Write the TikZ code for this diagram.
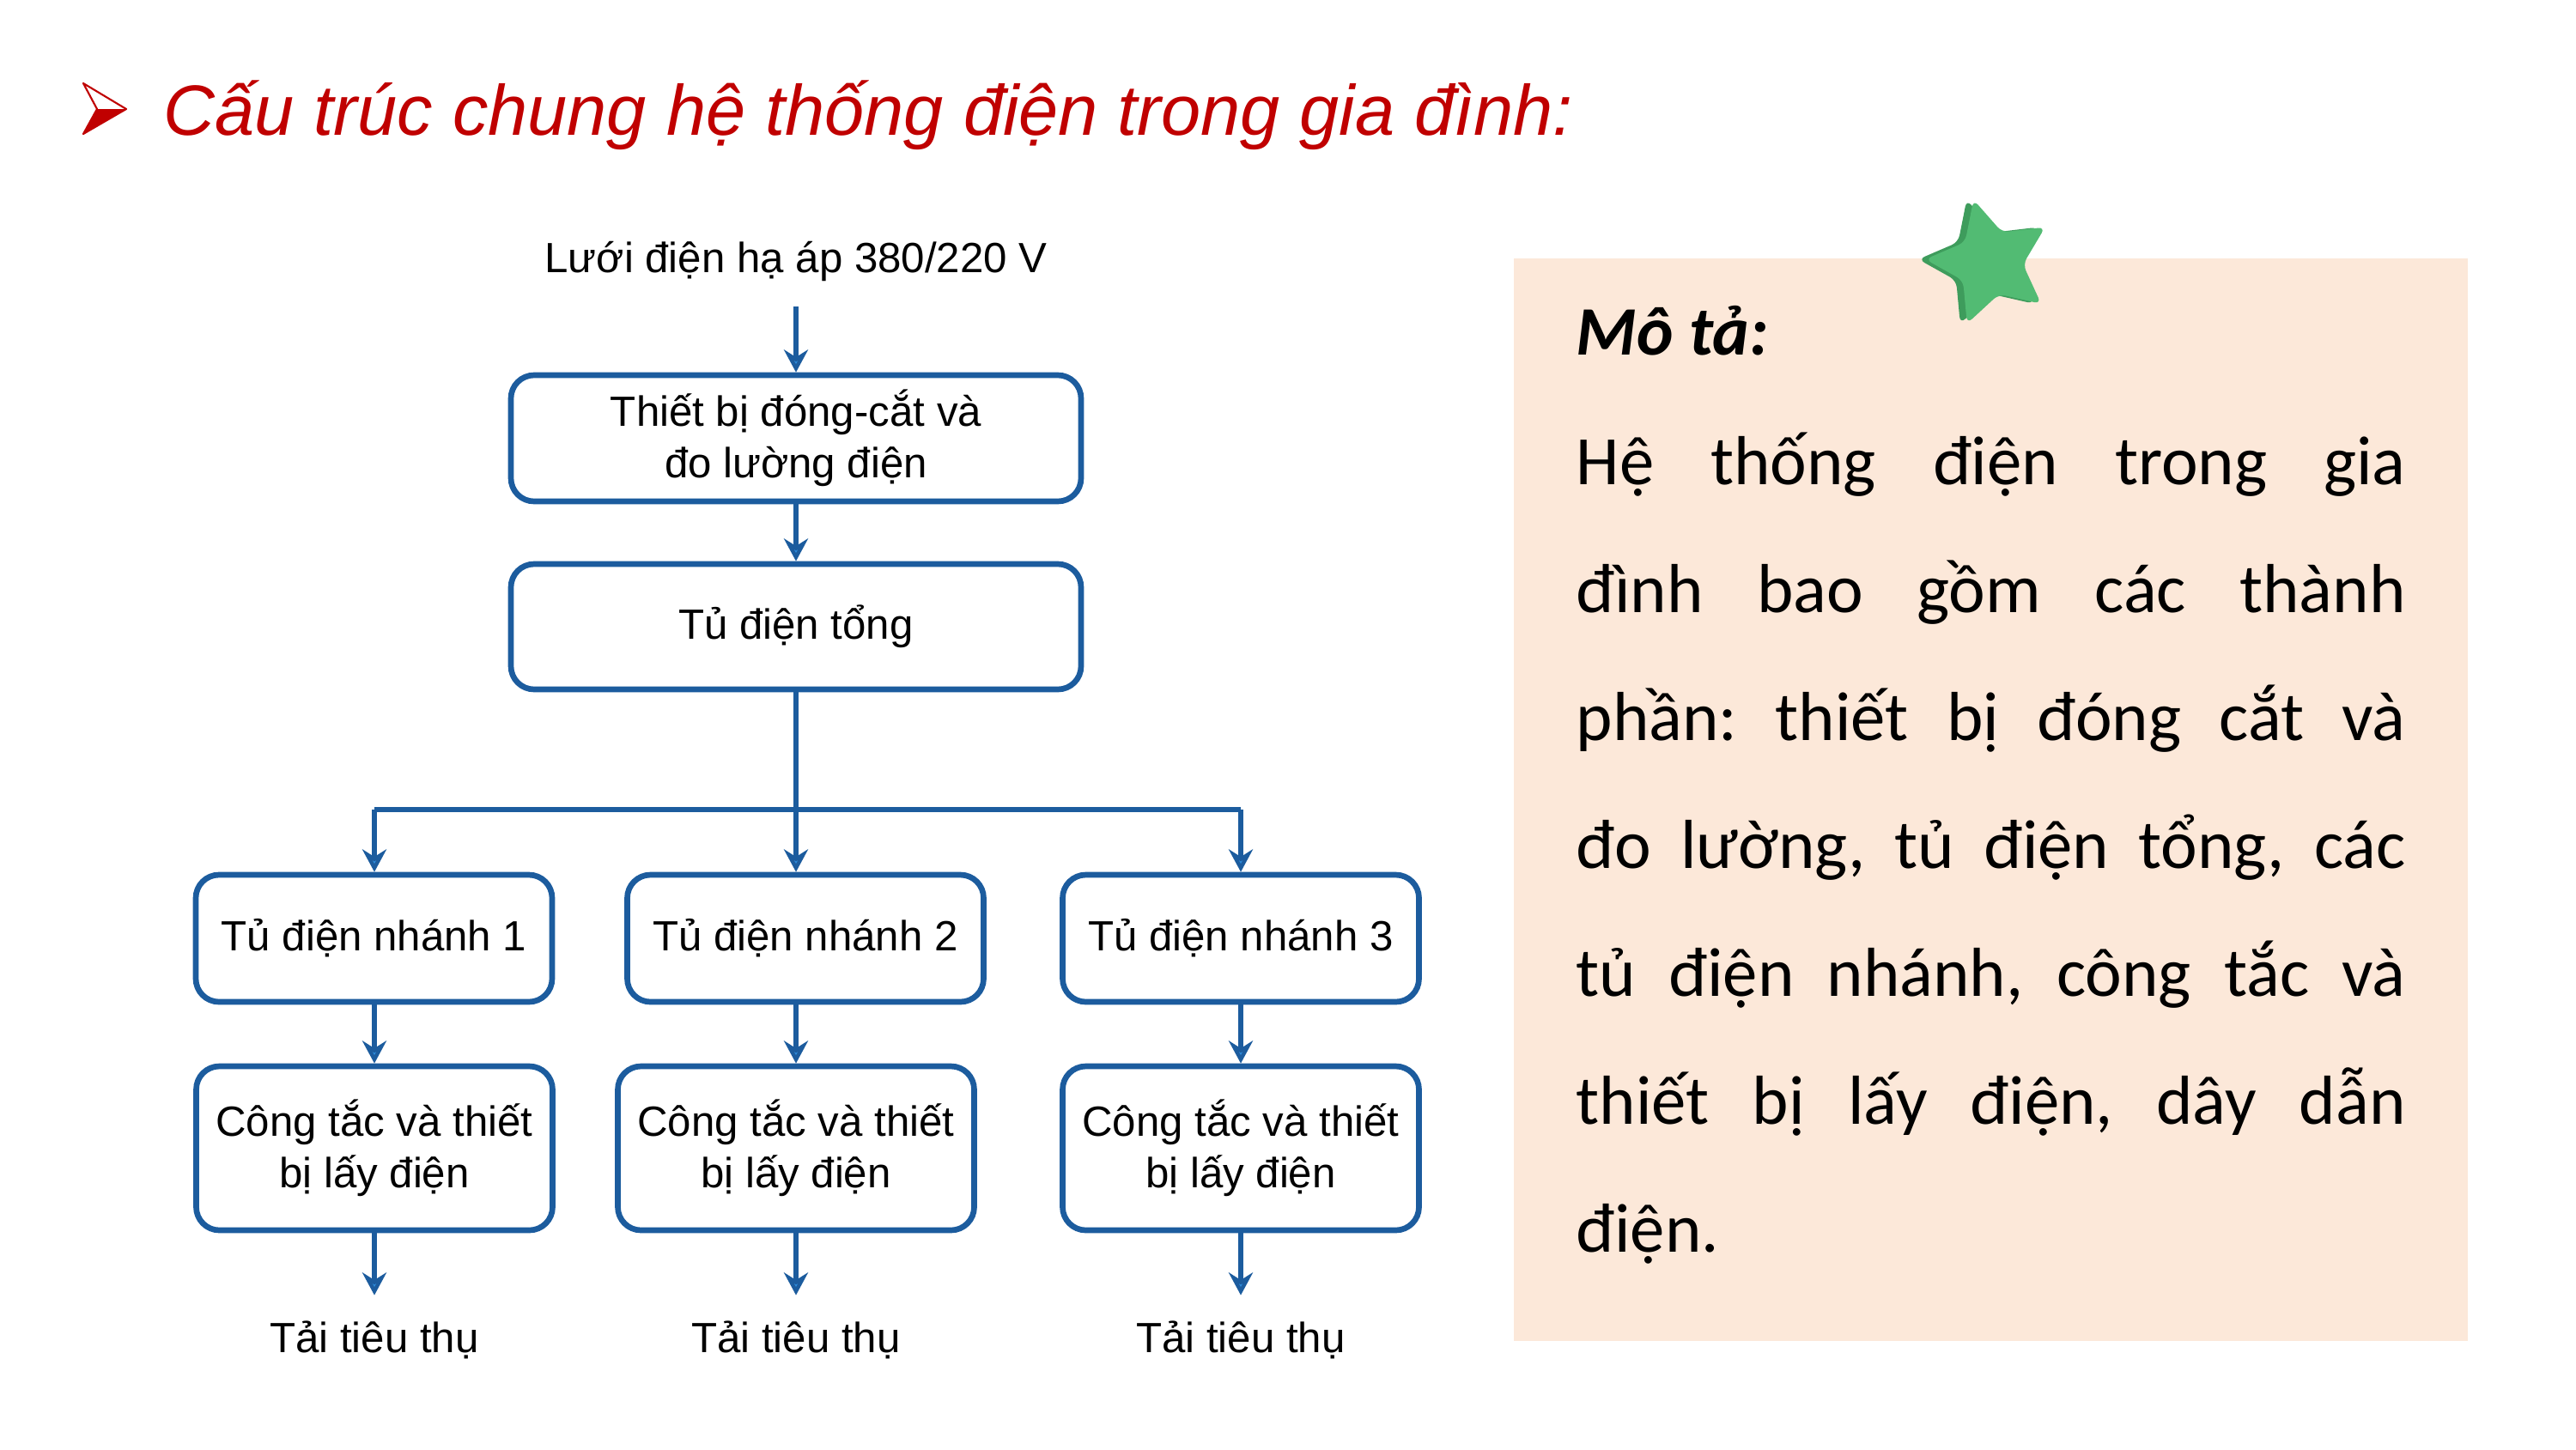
\documentclass[tikz,border=0pt]{standalone}
\usepackage{fontspec}
\setmainfont{Liberation Sans}
\newfontfamily\calibri{Carlito}
\usetikzlibrary{shapes,arrows.meta,positioning}

\definecolor{doviet}{HTML}{C00000}
\definecolor{xanhvien}{HTML}{1C5C9E}
\definecolor{xanhmui}{HTML}{2E8BDB}
\definecolor{damao}{HTML}{FCE8D9}
\definecolor{xanhla}{HTML}{52BB73}
\definecolor{xanhlatoi}{HTML}{3E9C5C}

\begin{document}
\begin{tikzpicture}[
    hop/.style={draw=xanhvien, line width=1.9pt, rounded corners=0.27cm, align=center, inner sep=0pt, font=\fontsize{14}{17}\selectfont},
    nhan/.style={inner sep=0.29cm, font=\fontsize{14}{17}\selectfont},
    day/.style={draw=xanhvien, line width=1.6pt},
    mui/.style={day, -{Stealth[length=7.5pt, width=8pt, inset=2.5pt, fill=xanhmui]}},
    sao/.style={star, star points=5, star point ratio=2, minimum size=1.52cm, rotate=15, rounded corners=0.08cm, inner sep=0pt}
]
\useasboundingbox (0,0) rectangle (30,-16.88);
\fill[white] (0,0) rectangle (30,-16.88);

% TIÊU ĐỀ
\fill[doviet] (1.13,-1.27) -- (1.47,-1.27) -- (0.97,-1.56) -- cycle;
\draw[doviet, line width=0.6pt, line join=round] (1.13,-1.27) -- (0.97,-0.97) -- (1.47,-1.27) -- (0.97,-1.56) -- cycle;
\node[anchor=base west, inner sep=0pt, text=doviet, font=\fontsize{23.6}{28}\selectfont\itshape] (tieude) at (1.90,-1.57) {Cấu trúc chung hệ thống điện trong gia đình:};

% SƠ ĐỒ
\node[nhan, anchor=base] (luoi) at (9.27,-3.17) {Lưới điện hạ áp 380/220 V};
\node[hop, minimum width=6.64cm, minimum height=1.47cm] (thietbi) at (9.27,-5.105) {Thiết bị đóng-cắt và\\đo lường điện};
\node[hop, minimum width=6.64cm, minimum height=1.46cm] (tong) at (9.27,-7.30) {Tủ điện tổng};
\draw[mui] (luoi.south) -- (thietbi.north);
\draw[mui] (thietbi) -- (tong);

% RẼ NHÁNH
\coordinate (re1) at (4.36,-9.43);
\coordinate (re2) at (9.27,-9.43);
\coordinate (re3) at (14.45,-9.43);
\draw[day] (tong) -- (re2);
\draw[day] (re1) -- (re3);

\foreach \i/\x/\xh in {1/4.36/4.355, 2/9.27/9.38, 3/14.45/14.45} {
    \node[hop, minimum width=4.15cm, minimum height=1.48cm] (nhanh\i) at (\xh,-10.93) {Tủ điện nhánh \i};
    \node[hop, minimum width=4.15cm, minimum height=1.91cm] (congtac\i) at (\x,-13.375) {Công tắc và thiết\\bị lấy điện};
    \node[nhan, anchor=base] (tai\i) at (\x,-15.75) {Tải tiêu thụ};
    \draw[mui] (re\i) -- (re\i |- nhanh\i.north);
    \draw[mui] (re\i |- nhanh\i.south) -- (congtac\i);
    \draw[mui] (congtac\i) -- (tai\i);
}

% MÔ TẢ
\fill[damao] (17.63,-3.01) rectangle (28.74,-15.62);
\node[sao, fill=xanhlatoi] (saobong) at (23.10,-3.06) {};
\node[sao, fill=xanhla] (sao) at (23.18,-3.06) {};
\node[anchor=base west, inner sep=0pt, font=\calibri\bfseries\itshape\fontsize{23}{28}\selectfont] (mota) at (18.35,-4.13) {Mô tả:};
\node[anchor=base west, inner sep=0pt, text width=9.66cm, align=justify, font=\calibri\fontsize{23}{42.4}\selectfont] (noidung) at (18.35,-5.64) {\tolerance=10000\relax\frenchspacing Hệ thống điện trong gia\linebreak đình bao gồm các thành\linebreak phần: thiết bị đóng cắt và\linebreak đo lường, tủ điện tổng, các\linebreak tủ điện nhánh, công tắc và\linebreak thiết bị lấy điện, dây dẫn\linebreak điện.};

\end{tikzpicture}
\end{document}
